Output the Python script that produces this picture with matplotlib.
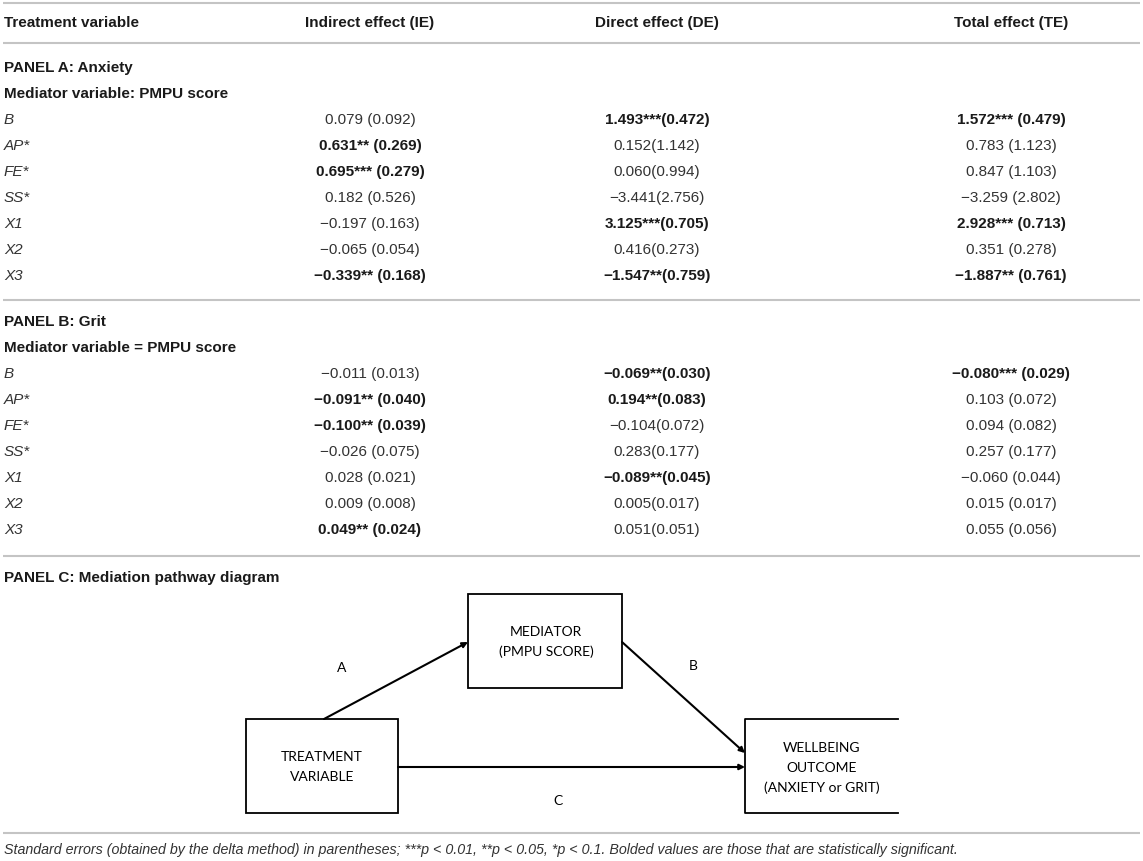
import matplotlib
matplotlib.use("Agg")
import matplotlib.pyplot as plt
from matplotlib.patches import Rectangle

# table content
headers = ['Treatment variable', 'Indirect effect (IE)', 'Direct effect (DE)', 'Total effect (TE)']
row_labels = ['B', 'AP*', 'FE*', 'SS*', 'X1', 'X2', 'X3']

# Panel A: Anxiety
a_ie = ['0.079 (0.092)', '0.631** (0.269)', '0.695*** (0.279)', '0.182 (0.526)',
        '\u22120.197 (0.163)', '\u22120.065 (0.054)', '\u22120.339** (0.168)']
a_de = ['1.493***(0.472)', '0.152(1.142)', '0.060(0.994)', '\u22123.441(2.756)',
        '3.125***(0.705)', '0.416(0.273)', '\u22121.547**(0.759)']
a_te = ['1.572*** (0.479)', '0.783 (1.123)', '0.847 (1.103)', '\u22123.259 (2.802)',
        '2.928*** (0.713)', '0.351 (0.278)', '\u22121.887** (0.761)']

# Panel B: Grit
b_ie = ['\u22120.011 (0.013)', '\u22120.091** (0.040)', '\u22120.100** (0.039)', '\u22120.026 (0.075)',
        '0.028 (0.021)', '0.009 (0.008)', '0.049** (0.024)']
b_de = ['\u22120.069**(0.030)', '0.194**(0.083)', '\u22120.104(0.072)', '0.283(0.177)',
        '\u22120.089**(0.045)', '0.005(0.017)', '0.051(0.051)']
b_te = ['\u22120.080*** (0.029)', '0.103 (0.072)', '0.094 (0.082)', '0.257 (0.177)',
        '\u22120.060 (0.044)', '0.015 (0.017)', '0.055 (0.056)']

footnote = ('Standard errors (obtained by the delta method) in parentheses; ***p < 0.01, '
            '**p < 0.05, *p < 0.1. Bolded values are those that are statistically significant.')

W, H = 1143, 861
fig = plt.figure(figsize=(W / 100, H / 100), dpi=100)
ax = fig.add_axes([0, 0, 1, 1])
ax.set_xlim(0, W)
ax.set_ylim(H, 0)
ax.axis('off')

plt.rcParams['font.family'] = ['Liberation Sans', 'DejaVu Sans']
fs = 11
dark = '#1a1a1a'
grey_txt = '#333333'
rule_c = '#c4c4c4'
col_x = [4, 370, 657, 1011]


def rule(y):
    ax.plot([3, 1140], [y, y], color=rule_c, lw=1.5, solid_capstyle='butt')


def panel(y0, title, med_title, cols):
    ax.text(4, y0, title, fontsize=fs, fontweight='bold', color=dark, va='center')
    ax.text(4, y0 + 26, med_title, fontsize=fs, fontweight='bold', color=dark, va='center')
    for i, lab in enumerate(row_labels):
        y = y0 + 52 + 26 * i
        ax.text(4, y, lab, fontsize=fs, style='italic', color=grey_txt, va='center')
        for j, col in enumerate(cols):
            val = col[i]
            bold = '*' in val
            ax.text(col_x[j + 1], y, val, fontsize=fs, ha='center', va='center',
                    fontweight='bold' if bold else 'normal',
                    color=dark if bold else grey_txt)


# header
rule(3)
for j, h in enumerate(headers):
    ax.text(col_x[j], 23, h, fontsize=fs, fontweight='bold', color=dark, va='center',
            ha='left' if j == 0 else 'center')
rule(43)

panel(68, 'PANEL A: Anxiety', 'Mediator variable: PMPU score', [a_ie, a_de, a_te])
rule(300)
panel(322, 'PANEL B: Grit', 'Mediator variable = PMPU score', [b_ie, b_de, b_te])
rule(556)
ax.text(4, 578, 'PANEL C: Mediation pathway diagram', fontsize=fs, fontweight='bold',
        color=dark, va='center')

# mediation diagram
dfont = ['Lato', 'DejaVu Sans']
dfs = 10
box_lw = 1.3
ax.add_patch(Rectangle((246, 719), 152, 94, fill=False, ec='black', lw=box_lw))
ax.add_patch(Rectangle((468, 594), 154, 94, fill=False, ec='black', lw=box_lw))
ax.plot([898, 745, 745, 898], [719, 719, 813, 813], color='black', lw=box_lw)

ax.text(322, 767, 'TREATMENT\nVARIABLE', family=dfont, fontsize=dfs, ha='center', va='center',
        linespacing=1.75)
ax.text(546, 642, 'MEDIATOR\n(PMPU SCORE)', family=dfont, fontsize=dfs, ha='center', va='center',
        linespacing=1.75)
ax.text(822, 768, 'WELLBEING\nOUTCOME\n(ANXIETY or GRIT)', family=dfont, fontsize=dfs,
        ha='center', va='center', linespacing=1.75)

arrow = dict(arrowstyle='-|>', lw=1.5, color='black', mutation_scale=8, shrinkA=0, shrinkB=0)
ax.annotate('', xy=(468, 642), xytext=(324, 719), arrowprops=arrow)
ax.annotate('', xy=(745, 753), xytext=(622, 642), arrowprops=arrow)
ax.annotate('', xy=(745, 767), xytext=(398, 767), arrowprops=arrow)

ax.text(342, 668, 'A', family=dfont, fontsize=dfs, ha='center', va='center')
ax.text(693, 666, 'B', family=dfont, fontsize=dfs, ha='center', va='center')
ax.text(558, 801, 'C', family=dfont, fontsize=dfs, ha='center', va='center')

rule(833)
ax.text(4, 850, footnote, fontsize=10.3, style='italic', color=grey_txt, va='center')

fig.savefig('out.png', dpi=100)
